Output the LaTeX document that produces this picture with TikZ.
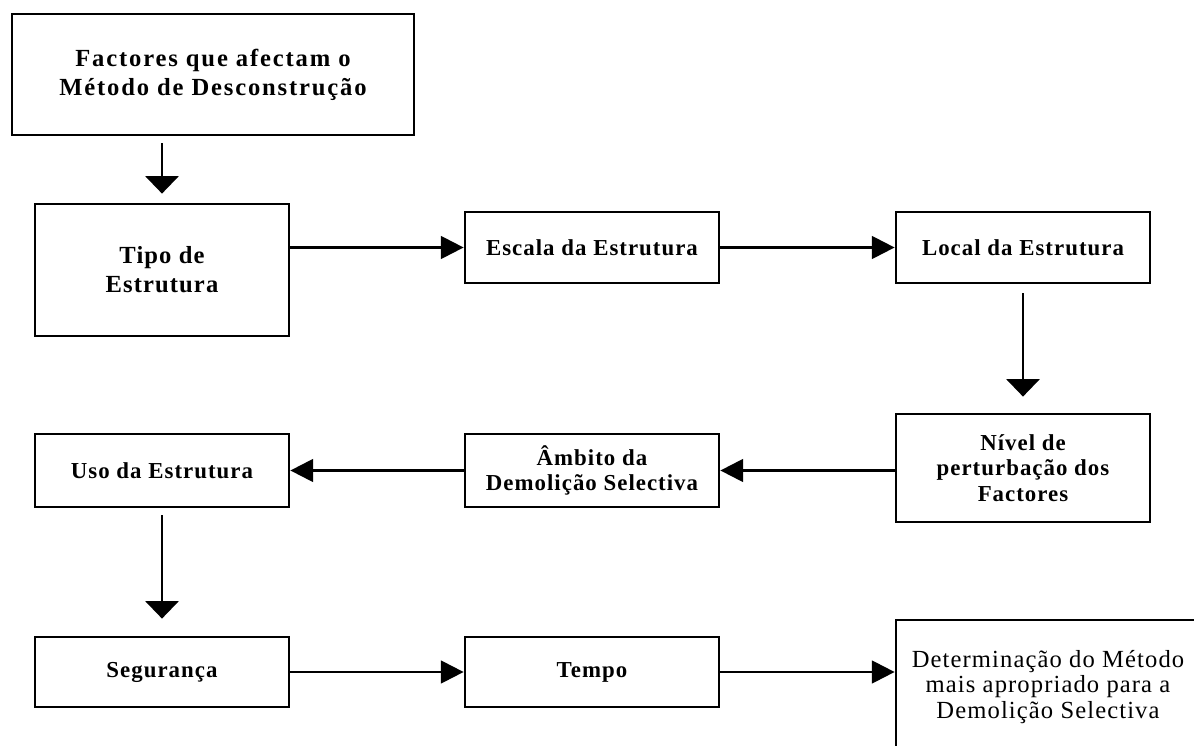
\documentclass[tikz,border=0pt]{standalone}
\usepackage{fontspec}
\setmainfont{Liberation Serif}
\newfontfamily\boxfont[LetterSpace=4.5]{Liberation Serif}
\newfontfamily\titlefont[LetterSpace=7.5]{Liberation Serif}
\usetikzlibrary{arrows.meta}

\tikzset{
  box/.style={draw, line width=1.6pt, align=center, inner sep=2pt,
    font=\boxfont\fontsize{13}{14.5}\selectfont\bfseries},
  flow/.style={line width=1.3pt, -{Triangle[length=13pt,width=13pt]}},
  down/.style={line width=1.3pt, -{Triangle[length=10pt,width=19pt]}},
}

\begin{document}
\begin{tikzpicture}[x=0.02cm, y=-0.02cm]
\useasboundingbox (0,0) rectangle (1194,746);

% top row
\node[box, minimum width=8.04cm, minimum height=2.42cm, font=\titlefont\fontsize{14}{16.5}\selectfont\bfseries]
  (factores) at (213,74.5) {Factores que afectam o\\M\'etodo de Desconstru\c{c}\~ao};
\node[box, minimum width=5.08cm, minimum height=2.64cm, font=\boxfont\fontsize{14}{16.5}\selectfont\bfseries]
  (tipo) at (162,270) {Tipo de\\Estrutura};
\node[box, minimum width=5.08cm, minimum height=1.42cm] (escala) at (592,247.5) {Escala da Estrutura};
\node[box, minimum width=5.08cm, minimum height=1.42cm] (local) at (1023,247.5) {Local da Estrutura};

% middle row
\node[box, minimum width=5.08cm, minimum height=2.16cm] (nivel) at (1023,468)
  {N\'ivel de\\perturba\c{c}\~ao dos\\Factores};
\node[box, minimum width=5.08cm, minimum height=1.46cm] (ambito) at (592,470.5)
  {\^Ambito da\\Demoli\c{c}\~ao Selectiva};
\node[box, minimum width=5.08cm, minimum height=1.46cm] (uso) at (162,470.5) {Uso da Estrutura};

% bottom row
\node[box, minimum width=5.08cm, minimum height=1.4cm] (seguranca) at (162,672) {Seguran\c{c}a};
\node[box, minimum width=5.08cm, minimum height=1.4cm] (tempo) at (592,672) {Tempo};
\node[box, minimum width=6.08cm, minimum height=2.68cm, font=\boxfont\fontsize{14}{14.5}\selectfont]
  (metodo) at (1048,687) {Determina\c{c}\~ao do M\'etodo\\mais apropriado para a\\Demoli\c{c}\~ao Selectiva};

\draw[down, shorten <=0.14cm, shorten >=0.18cm] (tipo.north |- factores.south) -- (tipo.north);
\draw[flow] (tipo.east |- escala.east) -- (escala.west);
\draw[flow] (escala.east) -- (local.west);
\draw[down, shorten <=0.18cm, shorten >=0.32cm] (local.south) -- (nivel.north);
\draw[flow] (nivel.west |- ambito.east) -- (ambito.east);
\draw[flow] (ambito.west) -- (uso.east);
\draw[down, shorten <=0.14cm, shorten >=0.34cm] (uso.south) -- (seguranca.north);
\draw[flow] (seguranca.east) -- (tempo.west);
\draw[flow] (tempo.east) -- (metodo.west |- tempo.east);

\end{tikzpicture}
\end{document}
